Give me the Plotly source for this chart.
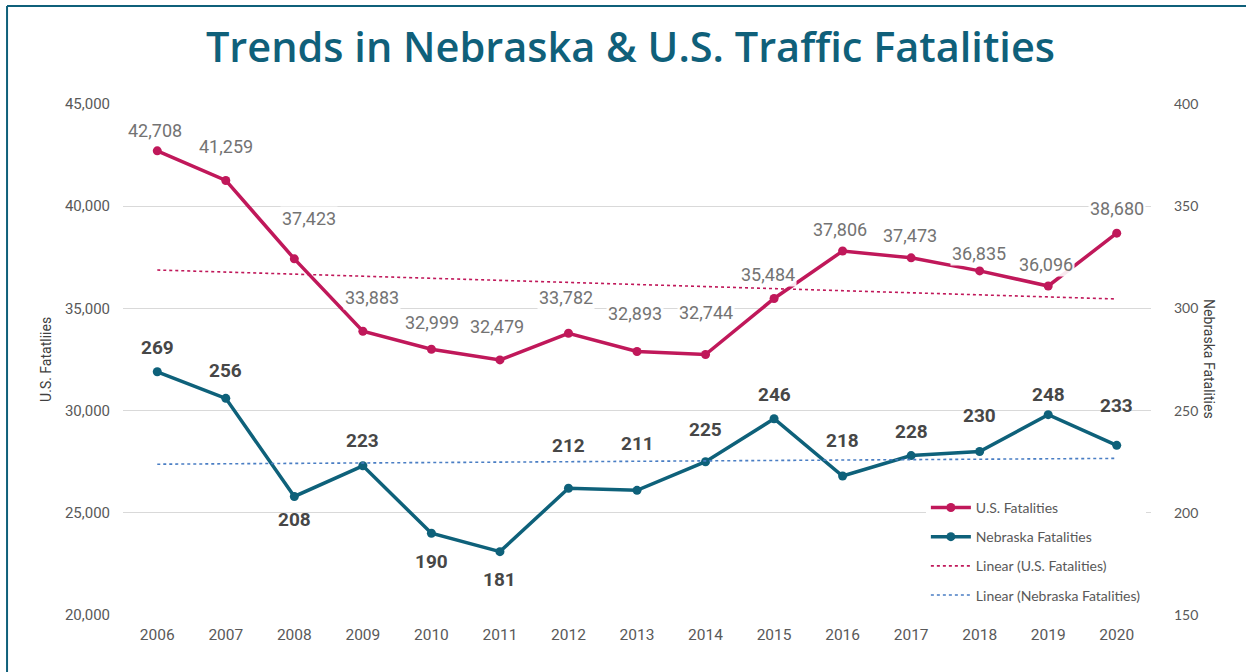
import numpy as np
import plotly.graph_objects as go

years = ["2006", "2007", "2008", "2009", "2010", "2011", "2012", "2013",
         "2014", "2015", "2016", "2017", "2018", "2019", "2020"]
us_fatalities = [42708, 41259, 37423, 33883, 32999, 32479, 33782, 32893,
                 32744, 35484, 37806, 37473, 36835, 36096, 38680]
ne_fatalities = [269, 256, 208, 223, 190, 181, 212, 211,
                 225, 246, 218, 228, 230, 248, 233]

# label placement (style only)
us_label_shift = [20, 34, 40, 34, 27, 33, 36, 38, 42, 24, 22, 22, 17, 22, 25]
us_label_xshift = [-2, 0, 15, 9, 1, -3, -2, -2, 0, -6, -3, -1, -1, -2, 0]
ne_label_shift = [24, 28, -23, 25, -28, -28, 43, 47, 32, 24, 36, 24, 36, 20, 40]

US_COLOR = "#c0185a"
NE_COLOR = "#0e617a"
TEAL = "#0f607a"

idx = np.arange(len(years))
us_fit = np.polyval(np.polyfit(idx, us_fatalities, 1), idx)
ne_fit = np.polyval(np.polyfit(idx, ne_fatalities, 1), idx)

fig = go.Figure()
fig.add_trace(go.Scatter(
    x=years, y=us_fatalities, name="U.S. Fatalities", mode="lines+markers",
    line=dict(color=US_COLOR, width=3.5), marker=dict(size=9, color=US_COLOR),
    yaxis="y", legendgroup="a"))
fig.add_trace(go.Scatter(
    x=years, y=ne_fatalities, name="Nebraska Fatalities", mode="lines+markers",
    line=dict(color=NE_COLOR, width=3.5), marker=dict(size=9, color=NE_COLOR),
    yaxis="y2", legendgroup="b"))
fig.add_trace(go.Scatter(
    x=years, y=us_fit, name="Linear (U.S. Fatalities)", mode="lines",
    line=dict(color=US_COLOR, width=1.6, dash="dot"), yaxis="y", legendgroup="c"))
fig.add_trace(go.Scatter(
    x=years, y=ne_fit, name="Linear (Nebraska Fatalities)", mode="lines",
    line=dict(color="#4a7ec4", width=1.6, dash="dot"), yaxis="y2", legendgroup="d"))

annotations = []
for i, v in enumerate(us_fatalities):
    annotations.append(dict(
        x=i, y=v, xref="x", yref="y", text=f"{v:,}", showarrow=False,
        yshift=us_label_shift[i], xshift=us_label_xshift[i],
        font=dict(family="Roboto", size=18, color="#737373"),
        bgcolor="rgba(255,255,255,0.9)"))
for i, v in enumerate(ne_fatalities):
    annotations.append(dict(
        x=i, y=v, xref="x", yref="y2", text=f"<b>{v}</b>", showarrow=False,
        yshift=ne_label_shift[i],
        font=dict(family="Roboto", size=19, color="#474747")))

annotations.append(dict(
    x=-0.0755, y=0.5, xref="paper", yref="paper", text="U.S. Fatatliies",
    showarrow=False, textangle=-90, xanchor="center", yanchor="middle",
    font=dict(family="Roboto", size=14, color="#404040")))
annotations.append(dict(
    x=1.0568, y=0.5, xref="paper", yref="paper", text="Nebraska Fatalities",
    showarrow=False, textangle=90, xanchor="center", yanchor="middle",
    font=dict(family="Roboto", size=14, color="#404040")))

fig.update_layout(
    width=1246, height=672,
    margin=dict(l=123, r=95, t=104, b=57),
    paper_bgcolor="white", plot_bgcolor="white",
    title=dict(text="Trends in Nebraska & U.S. Traffic Fatalities",
               x=0.506, xanchor="center", y=0.93, yanchor="middle",
               font=dict(family="Open Sans", size=41.5, color=TEAL, weight=600)),
    xaxis=dict(type="category", range=[-0.5, 14.5], showgrid=False,
               showline=False, ticks="", ticklabelstandoff=8,
               tickfont=dict(family="Roboto", size=15.5, color="#595959")),
    yaxis=dict(range=[20000, 45000], dtick=5000, tickformat=",",
               showgrid=True, gridcolor="#d9d9d9", gridwidth=1.2,
               zeroline=False, showline=False, ticks="",
               ticklabelstandoff=12,
               tickfont=dict(family="Roboto", size=15, color="#595959")),
    yaxis2=dict(range=[150, 400], dtick=50, overlaying="y", side="right",
                showgrid=False, zeroline=False, showline=False, ticks="",
                ticklabelstandoff=22,
                tickfont=dict(family="Lato", size=14, color="#595959")),
    legend=dict(x=0.781, y=0.241, xanchor="left", yanchor="top",
                bgcolor="white", font=dict(family="Lato", size=14, color="#595959"),
                tracegroupgap=8, itemwidth=40),
    annotations=annotations,
    shapes=[
        dict(type="line", xref="paper", yref="paper", x0=-0.1128, x1=-0.1128,
             y0=-0.2, y1=1.192, line=dict(color=TEAL, width=2)),
        dict(type="line", xref="paper", yref="paper", x0=-0.1128, x1=1.2,
             y0=1.192, y1=1.192, line=dict(color=TEAL, width=2)),
    ],
    showlegend=True,
)

fig.write_html("out.html", config={"displayModeBar": False},
               post_script="document.body.style.margin='0';document.body.style.overflow='hidden';")
